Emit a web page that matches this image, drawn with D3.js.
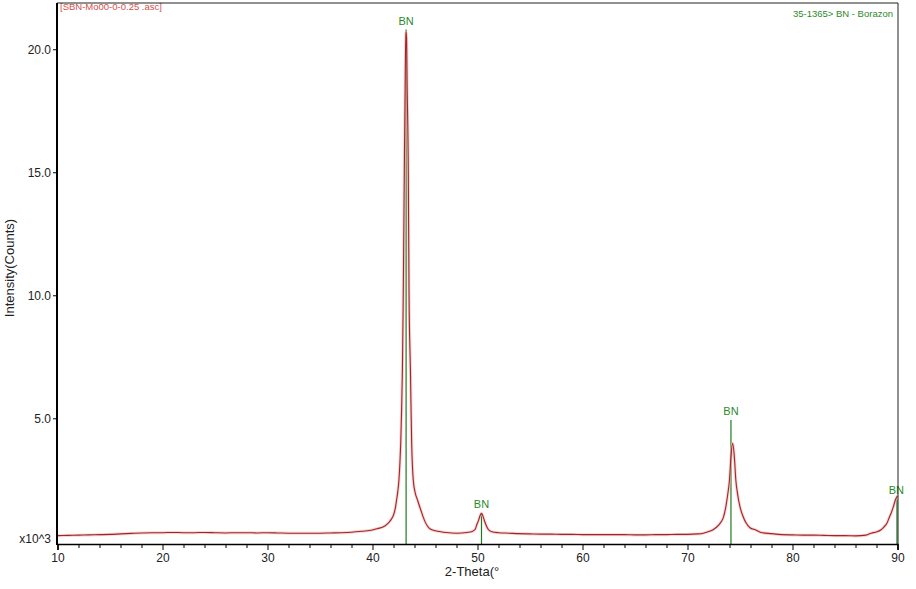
<!DOCTYPE html>
<html><head><meta charset="utf-8">
<script src="https://cdn.jsdelivr.net/npm/d3@7"></script>
<style>
html,body{margin:0;padding:0;background:#fff;}
svg{display:block;font-family:"Liberation Sans",Arial,sans-serif;}
</style></head>
<body>
<svg id="chart" width="916" height="589"></svg>
<script>
// Measured XRD pattern (2-Theta in degrees, intensity in thousands of counts)
const theta = [10,11,12,13,14,15,16,17,18,19,20,21,22,23,24,25,26,27,28,29,30,31,32,33,34,35,36,37,38,39,40,40.5,41,41.5,41.8,42.0,42.15,42.3,42.4,42.52,42.6,42.69,42.78,42.85,42.93,43.03,43.12,43.18,43.24,43.3,43.41,43.48,43.61,43.73,43.88,44.05,44.27,44.6,45.0,45.5,46,46.5,47,48,49,49.5,49.8,49.92,50.1,50.25,50.38,50.5,50.65,50.81,51.0,51.3,52,53,54,55,56,57,58,59,60,61,62,63,64,65,66,67,68,69,70,71,71.5,71.9,72.4,72.78,73.1,73.4,73.65,73.83,74.0,74.14,74.3,74.46,74.6,74.78,75.0,75.3,75.6,75.95,76.5,77,78,79,80,81,82,83,84,85,86,87,87.5,88,88.4,88.7,89.0,89.2,89.4,89.6,89.8,90];
const intensity = [0.23,0.24,0.25,0.26,0.27,0.28,0.30,0.32,0.34,0.35,0.35,0.36,0.35,0.35,0.36,0.35,0.34,0.35,0.35,0.34,0.35,0.34,0.33,0.33,0.33,0.33,0.34,0.35,0.37,0.41,0.46,0.52,0.58,0.74,0.90,1.07,1.30,1.70,2.00,2.50,3.10,4.00,5.50,7.00,10.0,15.0,19.0,20.7,20.5,18.5,15.0,10.0,7.0,4.0,2.5,2.0,1.7,1.27,0.80,0.50,0.43,0.39,0.36,0.33,0.36,0.40,0.50,0.66,0.85,1.05,1.14,1.05,0.85,0.66,0.50,0.40,0.35,0.33,0.31,0.30,0.29,0.29,0.28,0.28,0.27,0.27,0.27,0.27,0.27,0.26,0.26,0.27,0.27,0.28,0.28,0.30,0.33,0.38,0.46,0.58,0.73,0.95,1.40,1.90,2.50,3.44,3.98,3.44,2.50,1.90,1.40,1.00,0.73,0.55,0.46,0.36,0.31,0.27,0.26,0.25,0.25,0.24,0.23,0.23,0.22,0.25,0.33,0.38,0.46,0.58,0.74,0.95,1.15,1.40,1.68,1.85,1.95];

// Reference pattern 35-1365> BN - Borazon
const refTheta = [43.2, 50.38, 74.14, 89.95];
const refHeight = [20.8, 1.15, 4.93, 1.7];
const refLabel = ["BN","BN","BN","BN"];

const xMajorTicks = [10,20,30,40,50,60,70,80,90];
const xMinorTicks = [12,14,16,18,22,24,26,28,32,34,36,38,42,44,46,48,52,54,56,58,62,64,66,68,72,74,76,78,82,84,86,88];
const yTicks = [5,10,15,20];

const svg = d3.select("#chart");
const x = d3.scaleLinear().domain([10,90]).range([57.5,897.5]);
const y = d3.scaleLinear().domain([-0.11,21.88]).range([544,3]);

// file name
svg.append("text").attr("x",60).attr("y",10).attr("font-size",9.5)
  .attr("fill","#d05050").text("[SBN-Mo00-0-0.25 .asc]");

// reference lines
const refG = svg.append("g");
refG.selectAll("line").data(refTheta).join("line")
  .attr("x1",d=>x(d)).attr("x2",d=>x(d))
  .attr("y1",y(-0.11)).attr("y2",(d,i)=>y(refHeight[i]))
  .attr("stroke","#1f7a1f").attr("stroke-width",1.2);

// data line
const pts = theta.map((t,i)=>[t,intensity[i]]);
const line = d3.line().x(d=>x(d[0])).y(d=>y(d[1])).curve(d3.curveMonotoneX);
svg.append("path").datum(pts).attr("d",line).attr("fill","none")
  .attr("stroke","#f2b4b4").attr("stroke-width",3).attr("stroke-opacity",0.6);
svg.append("path").datum(pts).attr("d",line).attr("fill","none")
  .attr("stroke","#a0262a").attr("stroke-width",1.1);

// ref labels
refG.selectAll("text").data(refTheta).join("text")
  .attr("x",d=>x(d)).attr("y",(d,i)=>y(refHeight[i])-5)
  .attr("text-anchor",(d,i)=>i===3?"end":"middle")
  .attr("dx",(d,i)=>i===3?7:0)
  .attr("font-size",11).attr("fill","#2a8a2a").text((d,i)=>refLabel[i]);

svg.append("text").attr("x",893).attr("y",17).attr("text-anchor","end")
  .attr("font-size",9.5).attr("fill","#2a8a2a").text("35-1365> BN - Borazon");

// frame
svg.append("path").attr("d",`M57,3H898V544`).attr("fill","none").attr("stroke","#222").attr("stroke-width",1);
svg.append("line").attr("x1",57).attr("x2",57).attr("y1",3).attr("y2",545).attr("stroke","#000").attr("stroke-width",2);

// x axis
const xAxis = svg.append("g").attr("transform","translate(0,544)")
  .call(d3.axisBottom(x).tickValues(xMajorTicks).tickFormat(d3.format("d")).tickSize(6).tickPadding(3));
xAxis.select(".domain").attr("stroke","#000").attr("stroke-width",1.6);
xAxis.selectAll("text").attr("font-size",12).attr("fill","#222").attr("font-family","Liberation Sans, Arial, sans-serif");
svg.append("g").attr("transform","translate(0,544)")
  .call(d3.axisBottom(x).tickValues(xMinorTicks).tickFormat("").tickSize(4))
  .select(".domain").remove();

// y axis
const yAxis = svg.append("g").attr("transform","translate(57,0)")
  .call(d3.axisLeft(y).tickValues(yTicks).tickFormat(d3.format(".1f")).tickSize(4).tickPadding(2));
yAxis.select(".domain").remove();
yAxis.selectAll("text").attr("font-size",12).attr("fill","#222").attr("font-family","Liberation Sans, Arial, sans-serif");

svg.append("text").attr("x",51).attr("y",543).attr("text-anchor","end")
  .attr("font-size",12).attr("fill","#222").text("x10^3");

// axis titles
svg.append("text").attr("x",472).attr("y",576).attr("text-anchor","middle")
  .attr("font-size",13).attr("fill","#222").text("2-Theta(°");
svg.append("text").attr("transform","translate(14,268) rotate(-90)").attr("text-anchor","middle")
  .attr("font-size",13).attr("fill","#222").text("Intensity(Counts)");
</script>
</body></html>
